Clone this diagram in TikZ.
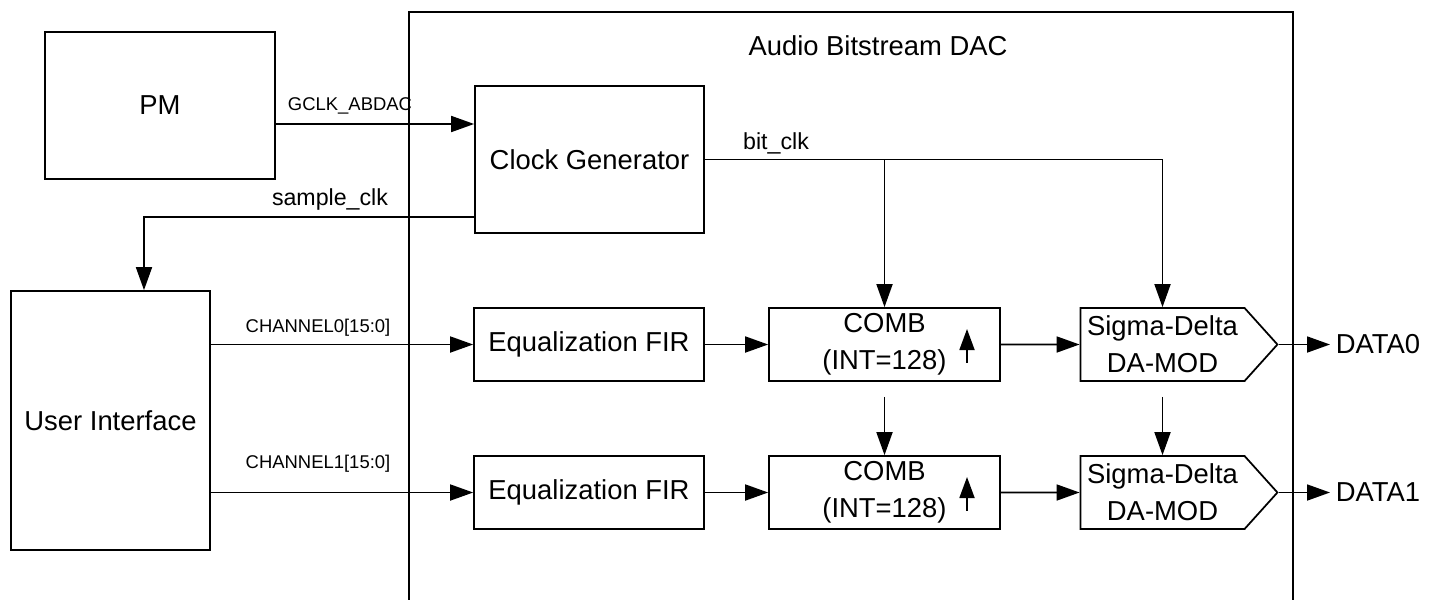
\documentclass[tikz,border=0pt]{standalone}
\usepackage{fontspec}
\setmainfont{Liberation Sans}
\usetikzlibrary{arrows.meta,shapes.symbols}

\tikzset{
  blk/.style={draw,minimum width=4.6cm,minimum height=1.46cm,inner sep=0pt,
    align=center,font=\fontsize{15.6}{21}\selectfont},
  sdm/.style={blk,shape=signal,signal to=east,signal pointer angle=96,
    minimum width=3.94cm},
  sig/.style={-{Triangle[length=0.46cm,width=0.32cm]}},
  lbl/.style={font=\fontsize{10.5}{12}\selectfont,inner sep=0pt},
  clklbl/.style={font=\fontsize{13.2}{15}\selectfont,inner sep=0pt},
}

\begin{document}
\begin{tikzpicture}[x=0.02cm,y=-0.02cm,line width=1pt]
    \useasboundingbox (0,0) rectangle (1429,599);
    % the DAC block, open at the bottom
    \draw (409,600) |- (1293,12) -- (1293,600);
    \node[font=\fontsize{15.6}{18}\selectfont] (title) at (878,46) {Audio Bitstream DAC};

    \node[blk,minimum height=2.94cm] (pm) at (160,105.5) {PM};
    \node[blk,minimum width=3.98cm,minimum height=5.18cm] (ui) at (110.5,420.5) {User Interface};
    \node[blk,minimum width=4.58cm,minimum height=2.94cm] (clk) at (589.5,159.5) {Clock Generator};

    \foreach \i/\y in {0/344.5,1/492.5}
    {\node[blk] (fir\i) at (589,\y) {Equalization FIR};
    \node[blk,minimum width=4.62cm] (comb\i) at (884.5,\y) {COMB\\(INT=128)};
    \node[sdm] (sdm\i) at (1162.5,\y) {Sigma-Delta\\DA-MOD};
    \node[font=\fontsize{15.6}{18}\selectfont,anchor=west,inner sep=0.1cm] (data\i) at (1330,\y) {DATA\i};
    \draw[sig] (ui.east |- fir\i) -- (fir\i);
    \draw[sig] (fir\i) -- (comb\i);
    \draw[sig] (comb\i) -- (sdm\i);
    \draw[sig] (sdm\i.east) -- (data\i);
    \draw[{Triangle[length=0.42cm,width=0.3cm]}-] (967,\y-15.5) -- (967,\y+18.5);}

    \node[lbl] (ch0) at (318,328) {CHANNEL0[15:0]};
    \node[lbl] (ch1) at (318,464) {CHANNEL1[15:0]};

    % clocks
    \draw[sig] ([yshift=-0.37cm]pm.east) -- ([yshift=-0.37cm]pm.east -| clk.west);
    \node[lbl] (gclk) at (350,106) {GCLK\_ABDAC};
    \draw[sig] ([yshift=-1.15cm]clk.west) -| ([xshift=0.67cm]ui.north);
    \node[clklbl] (sclk) at (330,199) {sample\_clk};
    \draw[sig] (clk.east) -| (sdm0.north);
    \draw[sig] (comb0.north |- clk.east) -- (comb0.north);
    \node[clklbl] (bclk) at (776,143) {bit\_clk};

    \draw[sig] ([yshift=-0.3cm]comb0.south) -- (comb1.north);
    \draw[sig] ([yshift=-0.3cm]sdm0.south) -- (sdm1.north);
   \end{tikzpicture}
\end{document}
